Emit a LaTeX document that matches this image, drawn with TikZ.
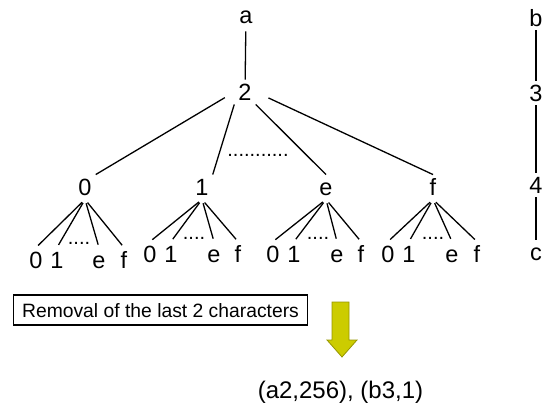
\documentclass[tikz,border=0pt]{standalone}
\usepackage{fontspec}
\setmainfont{Liberation Sans}
\usetikzlibrary{arrows,shapes}
\definecolor{arrowfill}{RGB}{204,204,0}
\definecolor{arrowline}{RGB}{150,150,0}

\begin{document}
\begin{tikzpicture}[x=1pt,y=-1pt,
  lbl/.style={font=\fontsize{23.5}{23.5}\selectfont,text height=16.5pt,text depth=0pt,inner sep=4pt},
  dots/.style={font=\fontsize{20}{20}\selectfont,inner sep=0pt},
  edge/.style={black,line width=1.3pt},
  leaf/.style={black,line width=1.3pt,shorten <=4pt,shorten >=3pt}]
\useasboundingbox (0,0) rectangle (550,410);
% tree, top levels
\node (na) at (246,15) [lbl] {a};
\node (n2) at (245,92) [lbl] {2};
\node (n0) at (85,187) [lbl] {0};
\node (n1) at (202,187) [lbl] {1};
\node (ne) at (326,187) [lbl] {e};
\node (nf) at (433,187) [lbl] {f};
\node (dmid) at (258,155) [dots] {...........};
\draw[edge,shorten <=4pt] (na) -- (n2);
\draw[edge,shorten <=11pt] (n2.west) -- (n0.north east);
\draw[edge] (n2.south west) -- (n1.north east);
\draw[edge] (n2.south east) -- (ne.north);
\draw[edge,shorten <=14pt] (n2.east) -- (nf.north);
% leaves under 0
\node (n00) at (36,260) [lbl] {0};
\node (n01) at (57,260) [lbl] {1};
\node (n0e) at (99,260) [lbl] {e};
\node (n0f) at (124,260) [lbl] {f};
\node (d0) at (79,243) [dots] {....};
\draw[leaf] (n0.south) -- (n00.north);
\draw[leaf] (n0.south) -- (n01.north);
\draw[leaf] (n0.south) -- (n0e.north);
\draw[leaf] (n0.south) -- (n0f.north);
% leaves under 1
\node (n10) at (150,254) [lbl] {0};
\node (n11) at (171,254) [lbl] {1};
\node (n1e) at (214,254) [lbl] {e};
\node (n1f) at (238,254) [lbl] {f};
\node (d1) at (194,238) [dots] {....};
\draw[leaf] (n1.south) -- (n10.north);
\draw[leaf] (n1.south) -- (n11.north);
\draw[leaf] (n1.south) -- (n1e.north);
\draw[leaf] (n1.south) -- (n1f.north);
% leaves under e
\node (ne0) at (273,254) [lbl] {0};
\node (ne1) at (294,254) [lbl] {1};
\node (nee) at (337,254) [lbl] {e};
\node (nef) at (361,254) [lbl] {f};
\node (de) at (318,238) [dots] {....};
\draw[leaf] (ne.south) -- (ne0.north);
\draw[leaf] (ne.south) -- (ne1.north);
\draw[leaf] (ne.south) -- (nee.north);
\draw[leaf] (ne.south) -- (nef.north);
% leaves under f
\node (nf0) at (388,254) [lbl] {0};
\node (nf1) at (409,254) [lbl] {1};
\node (nfe) at (452,254) [lbl] {e};
\node (nff) at (477,254) [lbl] {f};
\node (df) at (433,238) [dots] {....};
\draw[leaf] (nf.south) -- (nf0.north);
\draw[leaf] (nf.south) -- (nf1.north);
\draw[leaf] (nf.south) -- (nfe.north);
\draw[leaf] (nf.south) -- (nff.north);
% chain on the right
\node (nb) at (536,18) [lbl] {b};
\node (n3) at (536,93) [lbl] {3};
\node (n4) at (536,185) [lbl] {4};
\node (nc) at (536,252) [lbl] {c};
\draw[edge] (nb) -- (n3);
\draw[edge] (n3) -- (n4);
\draw[edge] (n4) -- (nc);
% removal and result
\node (removal) at (160.5,310) [draw,line width=1.3pt,font=\fontsize{19.3}{19.3}\selectfont,text height=14pt,text depth=0pt,inner xsep=8.5pt,inner ysep=8pt] {Removal of the last 2 characters};
\draw[draw=arrowline,fill=arrowfill,line width=0.8pt] (332,302) -- (349,302) -- (349,340) -- (357,340) -- (342,357) -- (327,340) -- (332,340) -- cycle;
\node (result) at (340.5,398) [anchor=base,inner sep=0pt,font=\fontsize{24}{24}\selectfont] {(a2,256), (b3,1)};
\end{tikzpicture}
\end{document}
